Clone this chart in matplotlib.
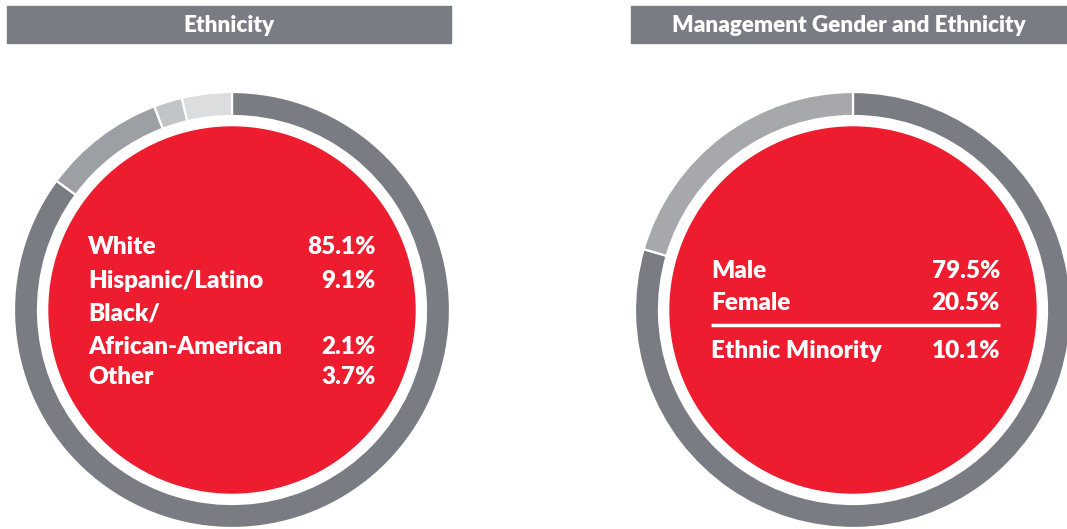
import matplotlib.pyplot as plt
from matplotlib.patches import Circle, Rectangle

# data
eth_labels = ["White", "Hispanic/Latino", "Black/\nAfrican-American", "Other"]
eth_values = [85.1, 9.1, 2.1, 3.7]
eth_colors = ["#797d83", "#9c9fa3", "#c1c4c7", "#dcdddf"]

mgmt_labels = ["Male", "Female"]
mgmt_values = [79.5, 20.5]
mgmt_colors = ["#797d83", "#a6a8ab"]
minority_label = "Ethnic Minority"
minority_value = 10.1

titles = ["Ethnicity", "Management Gender and Ethnicity"]

RED = "#ed1c2e"
HEAD = "#797d83"
W, H = 1067, 529
FONT = ["Lato", "DejaVu Sans"]

fig = plt.figure(figsize=(W / 100, H / 100), dpi=100)
ax = fig.add_axes([0, 0, 1, 1])


def Y(y):
    # pixel row -> data y (origin at bottom)
    return H - y


def donut(cx, cy, values, colors, r=218, ring=24, red_r=183):
    ax.pie(values, colors=colors, center=(cx, Y(cy)), radius=r, startangle=90,
           counterclock=False, wedgeprops=dict(width=ring, edgecolor="white", linewidth=1.6))
    ax.add_patch(Circle((cx, Y(cy)), red_r, color=RED, zorder=3))


def header(x0, x1, text):
    ax.add_patch(Rectangle((x0, Y(43)), x1 - x0, 37, color=HEAD, zorder=2))
    ax.text((x0 + x1) / 2, Y(25), text, color="white", fontsize=16.2, fontweight="heavy",
            ha="center", va="center", family=FONT, zorder=4)


def label(x, y, s, ha="left"):
    ax.text(x, Y(y + 1.5), s, color="white", fontsize=17.5, fontweight="heavy",
            ha=ha, va="center", family=FONT, zorder=5)


header(7, 451, titles[0])
header(631, 1067, titles[1])

donut(232, 310, eth_values, eth_colors)
donut(853, 310, mgmt_values, mgmt_colors)

# left labels
rows = [245, 279, 345, 376]
for lab, val, y in zip(eth_labels, eth_values, rows):
    if "\n" in lab:
        top, lab = lab.split("\n")
        label(88, y - 33, top)
    label(88, y, lab)
    label(376, y, f"{val}%", ha="right")

# right labels
for lab, val, y in zip(mgmt_labels, mgmt_values, [269, 301]):
    label(711, y, lab)
    label(1000, y, f"{val}%", ha="right")
ax.plot([711, 1000], [Y(325), Y(325)], color="white", lw=2.5, zorder=5, solid_capstyle="butt")
label(711, 349, minority_label)
label(1000, 349, f"{minority_value}%", ha="right")

ax.set_xlim(0, W)
ax.set_ylim(0, H)
ax.set_aspect("auto")
ax.axis("off")

fig.savefig("out.png", dpi=100)
